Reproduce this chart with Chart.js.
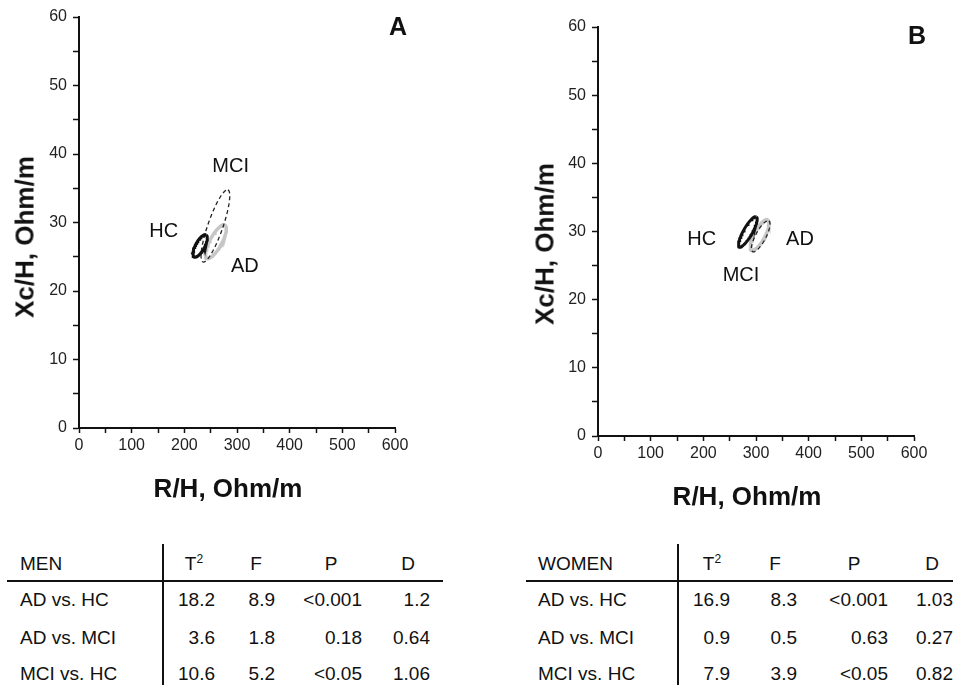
<!DOCTYPE html>
<html>
<head>
<meta charset="utf-8">
<script src="https://cdn.jsdelivr.net/npm/chart.js@4.4.0/dist/chart.umd.min.js"></script>
<style>
    body { margin: 0; background: #fff; }
    #page { position: relative; width: 953px; height: 685px; overflow: hidden;
            font-family: "Liberation Sans", Arial, sans-serif; color: #111; }
    .panel { position: absolute; }
    .axis-title { position: absolute; font-weight: bold; font-size: 26px; white-space: nowrap;
                  transform: translate(-50%, -50%); }
    .axis-title.vertical { transform: translate(-50%, -50%) rotate(-90deg); }
    .panel-letter { position: absolute; font-weight: bold; font-size: 25px;
                    transform: translate(-50%, -50%); }
    .cell { position: absolute; font-size: 19px; height: 24px; line-height: 24px; white-space: nowrap; }
    .cell sup { font-size: 12px; vertical-align: 7px; line-height: 0; }
    .rule { position: absolute; background: #111; }
</style>
</head>
<body>
<div id="page">
    <canvas id="chart-men" class="panel" width="430" height="500" style="left:0;top:0"></canvas>
    <canvas id="chart-women" class="panel" width="430" height="498" style="left:519px;top:10px"></canvas>

    <div class="axis-title vertical" style="left:25px;top:237px">Xc/H, Ohm/m</div>
    <div class="axis-title" style="left:228px;top:488px">R/H, Ohm/m</div>
    <div class="axis-title vertical" style="left:545px;top:244px">Xc/H, Ohm/m</div>
    <div class="axis-title" style="left:747px;top:496px">R/H, Ohm/m</div>

    <div class="panel-letter" style="left:398px;top:26px">A</div>
    <div class="panel-letter" style="left:917px;top:35px">B</div>

    <div id="tables"></div>
</div>

<script>
// groups, in drawing priority (first one ends up on top)
const groups = ["HC", "MCI", "AD"];

// men (panel A): ellipse centre and two conjugate semi-axes, in R/H and Xc/H units
const menCenterX = [230, 259, 260];
const menCenterY = [26.6, 29.5, 27.2];
const menAxisU = [[11.4, 1.6], [23.7, 5.26], [17.1, 2.41]];
const menAxisV = [[7.6, -0.32], [13.5, -0.36], [10.0, -0.42]];
const menLabelX = [161, 288, 315];
const menLabelY = [28.7, 38.2, 23.6];

// women (panel B)
const womenCenterX = [284.6, 309, 307];
const womenCenterY = [29.96, 29.3, 29.5];
const womenAxisU = [[16.1, 2.2], [15.5, 2.25], [15.2, 2.2]];
const womenAxisV = [[7.4, -0.32], [8.5, -0.38], [9.1, -0.4]];
const womenLabelX = [197, 271.5, 383.5];
const womenLabelY = [28.9, 23.6, 28.9];

// axes
const xMin = 0, xMax = 600, xStep = 50, xLabelEvery = 100;
const yMin = 0, yMax = 60, yStep = 5, yLabelEvery = 10;

// tables
const comparisons = ["AD vs. HC", "AD vs. MCI", "MCI vs. HC"];
const menT2 = ["18.2", "3.6", "10.6"];
const menF = ["8.9", "1.8", "5.2"];
const menP = ["<0.001", "0.18", "<0.05"];
const menD = ["1.2", "0.64", "1.06"];
const womenT2 = ["16.9", "0.9", "7.9"];
const womenF = ["8.3", "0.5", "3.9"];
const womenP = ["<0.001", "0.63", "<0.05"];
const womenD = ["1.03", "0.27", "0.82"];

const FONT = '"Liberation Sans", Arial, sans-serif';

const groupStyles = {
    HC: { color: "#111", width: 3, dash: [] },
    MCI: { color: "#222", width: 1.3, dash: [4, 3] },
    AD: { color: "#c6c6c6", width: 3.5, dash: [] }
};

function ellipsePoints(cx, cy, u, v) {
    const pts = [];
    for (let k = 0; k <= 72; k++) {
        const t = k / 72 * 2 * Math.PI;
        pts.push({
            x: cx + u[0] * Math.cos(t) + v[0] * Math.sin(t),
            y: cy + u[1] * Math.cos(t) + v[1] * Math.sin(t)
        });
    }
    return pts;
}

// draws the HC / MCI / AD names next to their ellipses
const groupLabels = {
    id: "groupLabels",
    afterDatasetsDraw(chart, args, opts) {
        const ctx = chart.ctx;
        const x = chart.scales.x;
        const y = chart.scales.y;
        ctx.save();
        ctx.font = "20px " + FONT;
        ctx.fillStyle = "#111";
        ctx.textAlign = "center";
        ctx.textBaseline = "middle";
        opts.text.forEach((t, i) => {
            ctx.fillText(t, x.getPixelForValue(opts.x[i]), y.getPixelForValue(opts.y[i]));
        });
        ctx.restore();
    }
};

function drawPanel(canvasId, centerX, centerY, axisU, axisV, labelX, labelY) {
    const datasets = groups.map((g, i) => ({
        label: g,
        data: ellipsePoints(centerX[i], centerY[i], axisU[i], axisV[i]),
        showLine: true,
        pointRadius: 0,
        borderColor: groupStyles[g].color,
        borderWidth: groupStyles[g].width,
        borderDash: groupStyles[g].dash,
        fill: false,
        tension: 0
    }));

    new Chart(document.getElementById(canvasId), {
        type: "scatter",
        data: { datasets: datasets },
        plugins: [groupLabels],
        options: {
            responsive: false,
            animation: false,
            layout: { padding: { left: 0, top: 17, right: 35, bottom: 0 } },
            plugins: {
                legend: { display: false },
                tooltip: { enabled: false },
                groupLabels: { text: groups, x: labelX, y: labelY }
            },
            scales: {
                x: {
                    type: "linear",
                    min: xMin,
                    max: xMax,
                    afterFit: (s) => { s.height = 72; },
                    border: { color: "#111", width: 2 },
                    grid: { drawOnChartArea: false, tickLength: 5, color: "#111", tickWidth: 1.5 },
                    ticks: {
                        stepSize: xStep,
                        autoSkip: false,
                        maxRotation: 0,
                        padding: 3,
                        color: "#222",
                        font: { size: 16, family: FONT },
                        callback: (v) => (v % xLabelEvery === 0 ? v : "")
                    }
                },
                y: {
                    type: "linear",
                    min: yMin,
                    max: yMax,
                    afterFit: (s) => { s.width = 79; },
                    border: { color: "#111", width: 2 },
                    grid: { drawOnChartArea: false, tickLength: 6, color: "#111", tickWidth: 1.5 },
                    ticks: {
                        stepSize: yStep,
                        autoSkip: false,
                        padding: 6,
                        color: "#222",
                        font: { size: 16, family: FONT },
                        callback: (v) => (v % yLabelEvery === 0 ? v : "")
                    }
                }
            }
        }
    });
}

drawPanel("chart-men", menCenterX, menCenterY, menAxisU, menAxisV, menLabelX, menLabelY);
drawPanel("chart-women", womenCenterX, womenCenterY, womenAxisU, womenAxisV, womenLabelX, womenLabelY);

// tables under the charts
function addCell(parent, html, left, centerY, align) {
    const div = document.createElement("div");
    div.className = "cell";
    div.innerHTML = html;
    div.style.top = (centerY - 12) + "px";
    if (align === "right") {
        div.style.left = (left - 200) + "px";
        div.style.width = "200px";
        div.style.textAlign = "right";
    } else if (align === "center") {
        div.style.left = (left - 50) + "px";
        div.style.width = "100px";
        div.style.textAlign = "center";
    } else {
        div.style.left = left + "px";
    }
    parent.appendChild(div);
}

function addRule(parent, left, top, width, height) {
    const div = document.createElement("div");
    div.className = "rule";
    div.style.left = left + "px";
    div.style.top = top + "px";
    div.style.width = width + "px";
    div.style.height = height + "px";
    parent.appendChild(div);
}

function drawTable(title, t2, f, p, d, layout) {
    const box = document.getElementById("tables");
    const headerY = 563.5;
    const rowY = [600, 638, 673.5];

    addCell(box, title, layout.labelLeft, headerY, "left");
    addCell(box, "T<sup>2</sup>", layout.headCenters[0], headerY, "center");
    addCell(box, "F", layout.headCenters[1], headerY, "center");
    addCell(box, "P", layout.headCenters[2], headerY, "center");
    addCell(box, "D", layout.headCenters[3], headerY, "center");

    comparisons.forEach((c, i) => {
        addCell(box, c, layout.labelLeft, rowY[i], "left");
        [t2[i], f[i], p[i], d[i]].forEach((val, j) => {
            addCell(box, val.replace("<", "&lt;"), layout.valueRights[j], rowY[i], "right");
        });
    });

    addRule(box, layout.ruleLeft, 580, layout.ruleRight - layout.ruleLeft, 2);
    addRule(box, layout.divider, 544, 2, 141);
}

drawTable("MEN", menT2, menF, menP, menD, {
    labelLeft: 20, headCenters: [194, 256, 331, 408], valueRights: [215, 275, 362, 430],
    ruleLeft: 7, ruleRight: 443, divider: 162
});
drawTable("WOMEN", womenT2, womenF, womenP, womenD, {
    labelLeft: 538, headCenters: [712, 775, 854, 932], valueRights: [730, 797, 888, 953],
    ruleLeft: 526, ruleRight: 953, divider: 677
});
</script>
</body>
</html>
